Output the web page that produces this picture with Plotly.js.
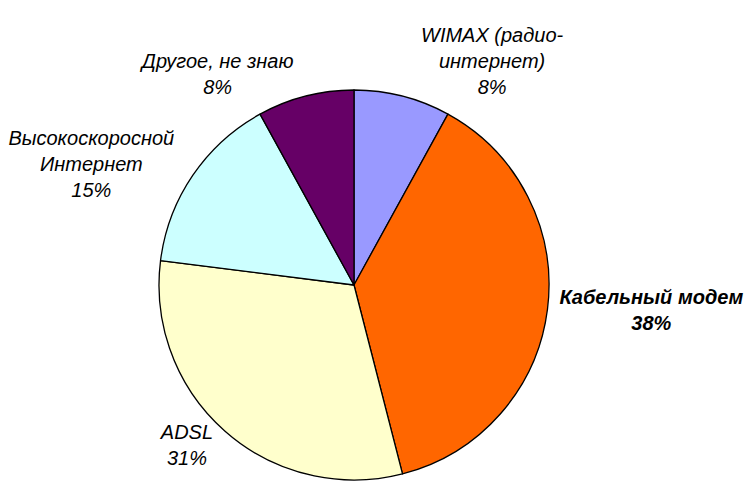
<!DOCTYPE html>
<html>
<head>
<meta charset="utf-8">
<script src="https://cdn.plot.ly/plotly-3.0.1.min.js"></script>
<style>html,body{margin:0;padding:0;background:#fff;}#chart{width:749px;height:488px;}</style>
</head>
<body>
<div id="chart"></div>
<script>
const categories = ["WIMAX (радио-<br>интернет)", "Кабельный модем", "ADSL", "Высокоскоросной<br>Интернет", "Другое, не знаю"];
const shares = [8, 38, 31, 15, 8];
const colors = ["#9999FF", "#FF6600", "#FFFFCC", "#CCFFFF", "#660066"];
const templates = ["%{label}<br>%{percent:.0%}", "<b>%{label}<br>%{percent:.0%}</b>", "%{label}<br>%{percent:.0%}", "%{label}<br>%{percent:.0%}", "%{label}<br>%{percent:.0%}"];

Plotly.newPlot("chart", [{
  type: "pie",
  labels: categories,
  values: shares,
  sort: false,
  direction: "clockwise",
  rotation: 0,
  marker: {colors: colors, line: {color: "#000000", width: 1.3}},
  textposition: "outside",
  texttemplate: templates,
  textfont: {family: "Liberation Sans, Arial, sans-serif", size: 20, color: "#000000", style: "italic"},
  hoverinfo: "label+percent",
  domain: {x: [159/749, 549/749], y: [8/488, 398/488]}
}], {
  width: 749, height: 488,
  margin: {l: 0, r: 0, t: 0, b: 0},
  showlegend: false,
  paper_bgcolor: "#ffffff",
  font: {family: "Liberation Sans, Arial, sans-serif"}
}, {displayModeBar: false, staticPlot: true});
</script>
</body>
</html>
